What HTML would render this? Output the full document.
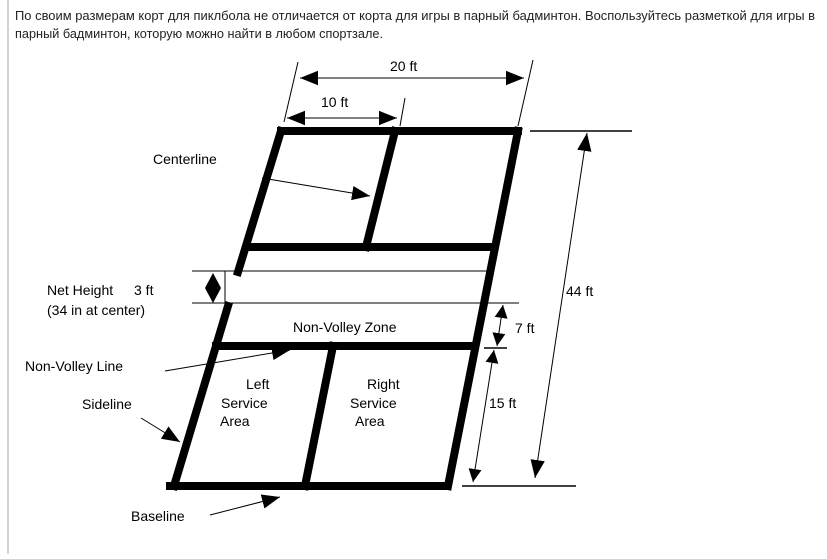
<!DOCTYPE html>
<html><head><meta charset="utf-8"><style>
body{margin:0;background:#fff;width:827px;height:554px;overflow:hidden;}
</style></head><body>
<svg width="827" height="554" viewBox="0 0 827 554" xmlns="http://www.w3.org/2000/svg" font-family="Liberation Sans, Arial, sans-serif">
<defs>
<marker id="a" viewBox="0 0 10 10" refX="10" refY="5" markerWidth="13" markerHeight="13" markerUnits="userSpaceOnUse" orient="auto-start-reverse"><path d="M0,0L10,5L0,10z" fill="#000"/></marker>
<marker id="b" viewBox="0 0 10 10" refX="10" refY="5" markerWidth="18" markerHeight="18" markerUnits="userSpaceOnUse" orient="auto-start-reverse"><path d="M0,1L10,5L0,9z" fill="#000"/></marker>
</defs>
<line x1="8" y1="0" x2="8" y2="554" stroke="#aaa" stroke-width="1"/>
<text x="15" y="20" font-size="13" fill="#222" textLength="800" lengthAdjust="spacingAndGlyphs">По своим размерам корт для пиклбола не отличается от корта для игры в парный бадминтон. Воспользуйтесь разметкой для игры в</text>
<text x="15" y="38" font-size="13" fill="#222" textLength="368" lengthAdjust="spacingAndGlyphs">парный бадминтон, которую можно найти в любом спортзале.</text>
<g stroke="#000" stroke-width="8" fill="none" stroke-linecap="square">
<line x1="281" y1="131" x2="518" y2="131"/>
<line x1="518" y1="131" x2="448" y2="486"/>
<line x1="281" y1="131" x2="238" y2="272"/>
<line x1="228" y1="306" x2="174" y2="486"/>
<line x1="170" y1="486" x2="444" y2="486"/>
<line x1="247" y1="247" x2="494" y2="247"/>
<line x1="216" y1="346" x2="470" y2="346"/>
<line x1="395" y1="131" x2="366" y2="247"/>
<line x1="333" y1="346" x2="305" y2="486"/>
</g>
<g stroke="#000" stroke-width="1" fill="none">
<line x1="192" y1="271" x2="488" y2="271"/>
<line x1="192" y1="303" x2="519" y2="303"/>
<line x1="225" y1="271" x2="225" y2="303"/>
<line x1="298" y1="62" x2="284" y2="122"/>
<line x1="533" y1="60" x2="518" y2="126"/>
<line x1="405" y1="98" x2="400" y2="126"/>
<line x1="300" y1="78" x2="524" y2="78" marker-start="url(#b)" marker-end="url(#b)"/>
<line x1="287" y1="118" x2="397" y2="118" marker-start="url(#b)" marker-end="url(#b)"/>
<line x1="530" y1="131" x2="632" y2="131" stroke-width="1.5"/>
<line x1="462" y1="486" x2="576" y2="486" stroke-width="1.5"/>
<line x1="484" y1="348" x2="507" y2="348" stroke-width="1.5"/>
<line x1="587" y1="133" x2="535" y2="478" marker-start="url(#b)" marker-end="url(#b)"/>
<line x1="503" y1="305" x2="497" y2="346" marker-start="url(#a)" marker-end="url(#a)"/>
<line x1="494" y1="350" x2="473" y2="482" marker-start="url(#a)" marker-end="url(#a)"/>
<line x1="262" y1="178" x2="370" y2="196" marker-end="url(#b)"/>
<line x1="165" y1="371" x2="290" y2="350" marker-end="url(#b)"/>
<line x1="141" y1="418" x2="180" y2="442" marker-end="url(#b)"/>
<line x1="210" y1="515" x2="280" y2="497" marker-end="url(#b)"/>
</g>
<path d="M213,273L221,288L213,303L205,288z" fill="#000"/>
<g font-size="14" fill="#000">
<text x="390" y="71">20 ft</text>
<text x="321" y="107">10 ft</text>
<text x="153" y="164">Centerline</text>
<text x="47" y="295">Net Height</text>
<text x="134" y="295">3 ft</text>
<text x="47" y="315">(34 in at center)</text>
<text x="293" y="332">Non-Volley Zone</text>
<text x="515" y="333">7 ft</text>
<text x="566" y="296">44 ft</text>
<text x="25" y="371">Non-Volley Line</text>
<text x="82" y="409">Sideline</text>
<text x="246" y="389">Left</text>
<text x="221" y="408">Service</text>
<text x="220" y="426">Area</text>
<text x="367" y="389">Right</text>
<text x="350" y="408">Service</text>
<text x="355" y="426">Area</text>
<text x="489" y="408">15 ft</text>
<text x="131" y="521">Baseline</text>
</g>
</svg>
</body></html>
